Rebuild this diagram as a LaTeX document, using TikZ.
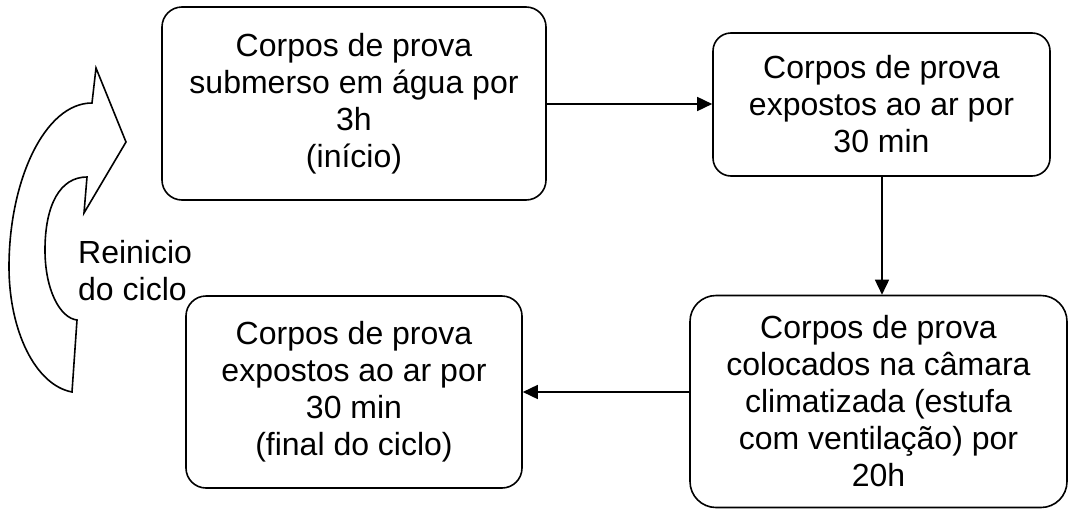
\documentclass[tikz,border=0pt]{standalone}
\usepackage{fontspec}
\setmainfont{Liberation Sans}
\usetikzlibrary{arrows.meta}
\begin{document}
\begin{tikzpicture}[x=1pt,y=-1pt,
  box/.style={draw=black, line width=1.6pt, rounded corners=20pt, fill=white,
    align=center, inner sep=0pt, font=\fontsize{32}{37}\selectfont},
  conn/.style={draw=black, line width=1.6pt, -{Triangle[length=15pt,width=14pt]}},
  lbl/.style={align=left, inner sep=0pt, font=\fontsize{32}{37}\selectfont}]
\useasboundingbox (0,0) rectangle (1069,509);
\node[box, minimum width=384pt, minimum height=193pt] (b1) at (354,103.5)
  {Corpos de prova\\submerso em água por\\3h\\(início)};
\node[box, minimum width=337pt, minimum height=143pt, rounded corners=18pt] (b2) at (881.5,104.5)
  {Corpos de prova\\expostos ao ar por\\30 min};
\node[box, minimum width=377pt, minimum height=212pt, rounded corners=26pt] (b3) at (878.5,401.5)
  {Corpos de prova\\colocados na câmara\\climatizada (estufa\\com ventilação) por\\20h};
\node[box, minimum width=336pt, minimum height=192pt] (b4) at (354,392)
  {Corpos de prova\\expostos ao ar por\\30 min\\(final do ciclo)};
\draw[conn] (b1.east |- 0,104) -- (b2.west |- 0,104);
\draw[conn] (b2.south -| 882,0) -- (b3.north -| 882,0);
\draw[conn] (b3.west |- b4.east) -- (b4.east);
% curved return arrow
\draw[line width=1.6pt, line join=miter] (72,392)
  .. controls (35,385) and (9,330) .. (9,267)
  .. controls (9,180) and (45,103) .. (92,103)
  -- (96,68) -- (126,142) -- (84,213) -- (87,177)
  .. controls (60,177) and (45,205) .. (45,250)
  .. controls (45,290) and (60,318) .. (77,320)
  -- cycle;
\node[lbl, anchor=west] (rl) at (78,271) {Reinicio\\do ciclo};
\end{tikzpicture}
\end{document}
